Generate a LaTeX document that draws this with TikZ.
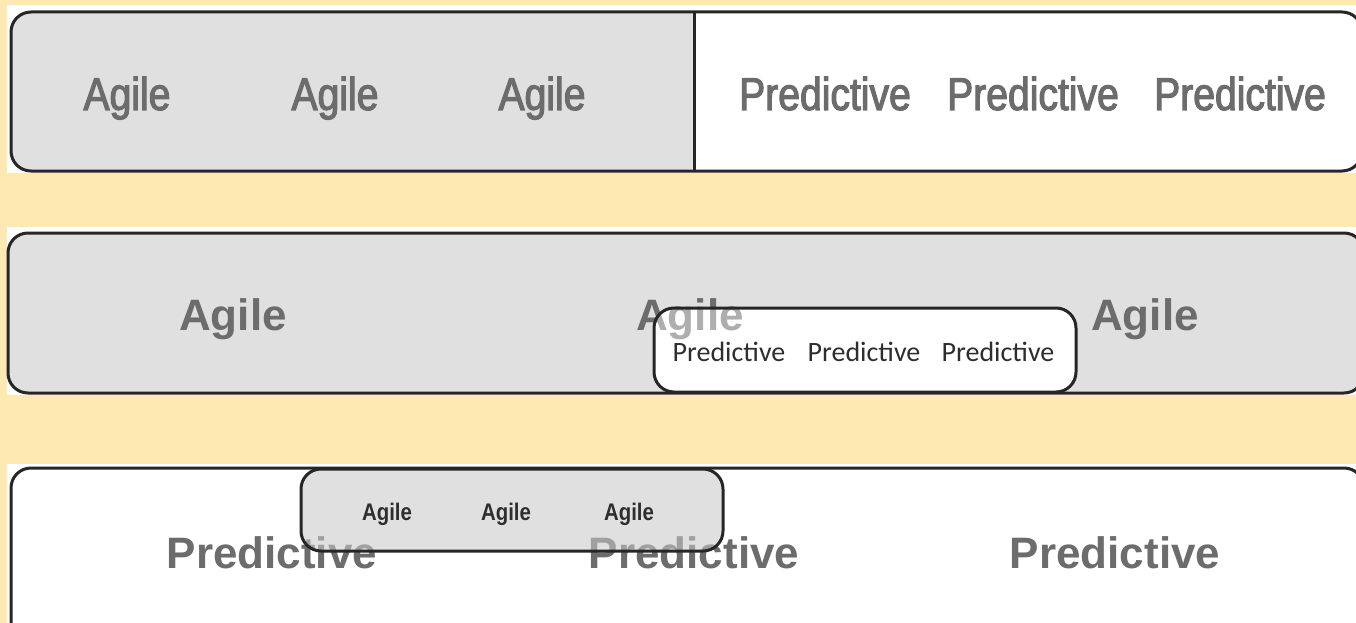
\documentclass[tikz,border=0pt]{standalone}
\usepackage{fontspec}
\setmainfont{Liberation Sans}
\newfontfamily\condfont[FakeStretch=0.85,FakeBold=2.5]{Liberation Sans}
\newfontfamily\condbold[FakeStretch=0.85]{Liberation Sans Bold}
\newfontfamily\calfont{Carlito}
\definecolor{bgyellow}{HTML}{FFE9B3}
\definecolor{boxgray}{HTML}{E0E0E0}
\definecolor{edgedark}{HTML}{262626}
\definecolor{txtgray}{HTML}{6C6C6C}
\definecolor{txtdark}{HTML}{2E2E2E}
\tikzset{
  outerbox/.style={draw=edgedark, line width=3pt, rounded corners=20pt},
  innerbox/.style={draw=edgedark, line width=3pt, rounded corners=20pt},
  bigcond/.style={anchor=base, inner sep=0pt, text=txtgray, font=\condfont\fontsize{46}{50}\selectfont},
  bigbold/.style={anchor=base, inner sep=0pt, text=txtgray, font=\bfseries\fontsize{44}{48}\selectfont},
  smallpred/.style={anchor=base, inner sep=0pt, text=txtdark, font=\calfont\fontsize{28}{32}\selectfont},
  smallagile/.style={anchor=base, inner sep=0pt, text=txtdark, font=\condbold\fontsize{24}{28}\selectfont},
  faded/.style={text opacity=0.55},
}
\begin{document}
\begin{tikzpicture}[x=1pt,y=-1pt]
\fill[bgyellow] (0,0) rectangle (1356,623);
\useasboundingbox (0,0) rectangle (1356,623);
\clip (0,0) rectangle (1356,623);
% white strips
\fill[white] (7,5) rectangle (1356,173);
\fill[white] (7,227) rectangle (1356,395);
\fill[white] (7,464) rectangle (1356,623);
% ---------- row 1 ----------
\begin{scope}
  \clip[rounded corners=20pt] (11,12) rectangle (1362,171);
  \fill[boxgray] (0,0) rectangle (694,200);
\end{scope}
\draw[outerbox] (11,12) rectangle (1362,171);
\draw[edgedark, line width=3pt] (694,12) -- (694,171);
\node[bigcond] (a11) at (127,110) {Agile};
\node[bigcond] (a12) at (335,110) {Agile};
\node[bigcond] (a13) at (542,110) {Agile};
\node[bigcond] (p11) at (825,110) {Predictive};
\node[bigcond] (p12) at (1033,110) {Predictive};
\node[bigcond] (p13) at (1240,110) {Predictive};
% ---------- row 2 ----------
\fill[boxgray, rounded corners=20pt] (8,233) rectangle (1364,393);
\node[bigbold] (a21) at (233,330) {Agile};
\node[bigbold] (a22) at (690,330) {Agile};
\node[bigbold] (a23) at (1145,330) {Agile};
\draw[outerbox] (8,233) rectangle (1364,393);
\fill[white, rounded corners=20pt] (654,308) rectangle (1076,392);
\begin{scope}
  \clip[rounded corners=20pt] (654,308) rectangle (1076,392);
  \node[bigbold, faded] (a22f) at (690,330) {Agile};
\end{scope}
\draw[innerbox] (654,308) rectangle (1076,392);
\node[smallpred] (p21) at (729,361) {Predictive};
\node[smallpred] (p22) at (864,361) {Predictive};
\node[smallpred] (p23) at (998,361) {Predictive};
% ---------- row 3 ----------
\draw[outerbox, fill=white] (11,468) rectangle (1364,660);
\node[bigbold] (p31) at (272,568) {Predictive};
\node[bigbold] (p32) at (694,568) {Predictive};
\node[bigbold] (p33) at (1115,568) {Predictive};
\fill[boxgray, rounded corners=20pt] (301,469) rectangle (723,551);
\begin{scope}
  \clip[rounded corners=20pt] (301,469) rectangle (723,551);
  \node[bigbold, faded] (p31f) at (272,568) {Predictive};
  \node[bigbold, faded] (p32f) at (694,568) {Predictive};
\end{scope}
\draw[innerbox] (301,469) rectangle (723,551);
\node[smallagile] (a31) at (387,520) {Agile};
\node[smallagile] (a32) at (506,520) {Agile};
\node[smallagile] (a33) at (629,520) {Agile};
\end{tikzpicture}
\end{document}
